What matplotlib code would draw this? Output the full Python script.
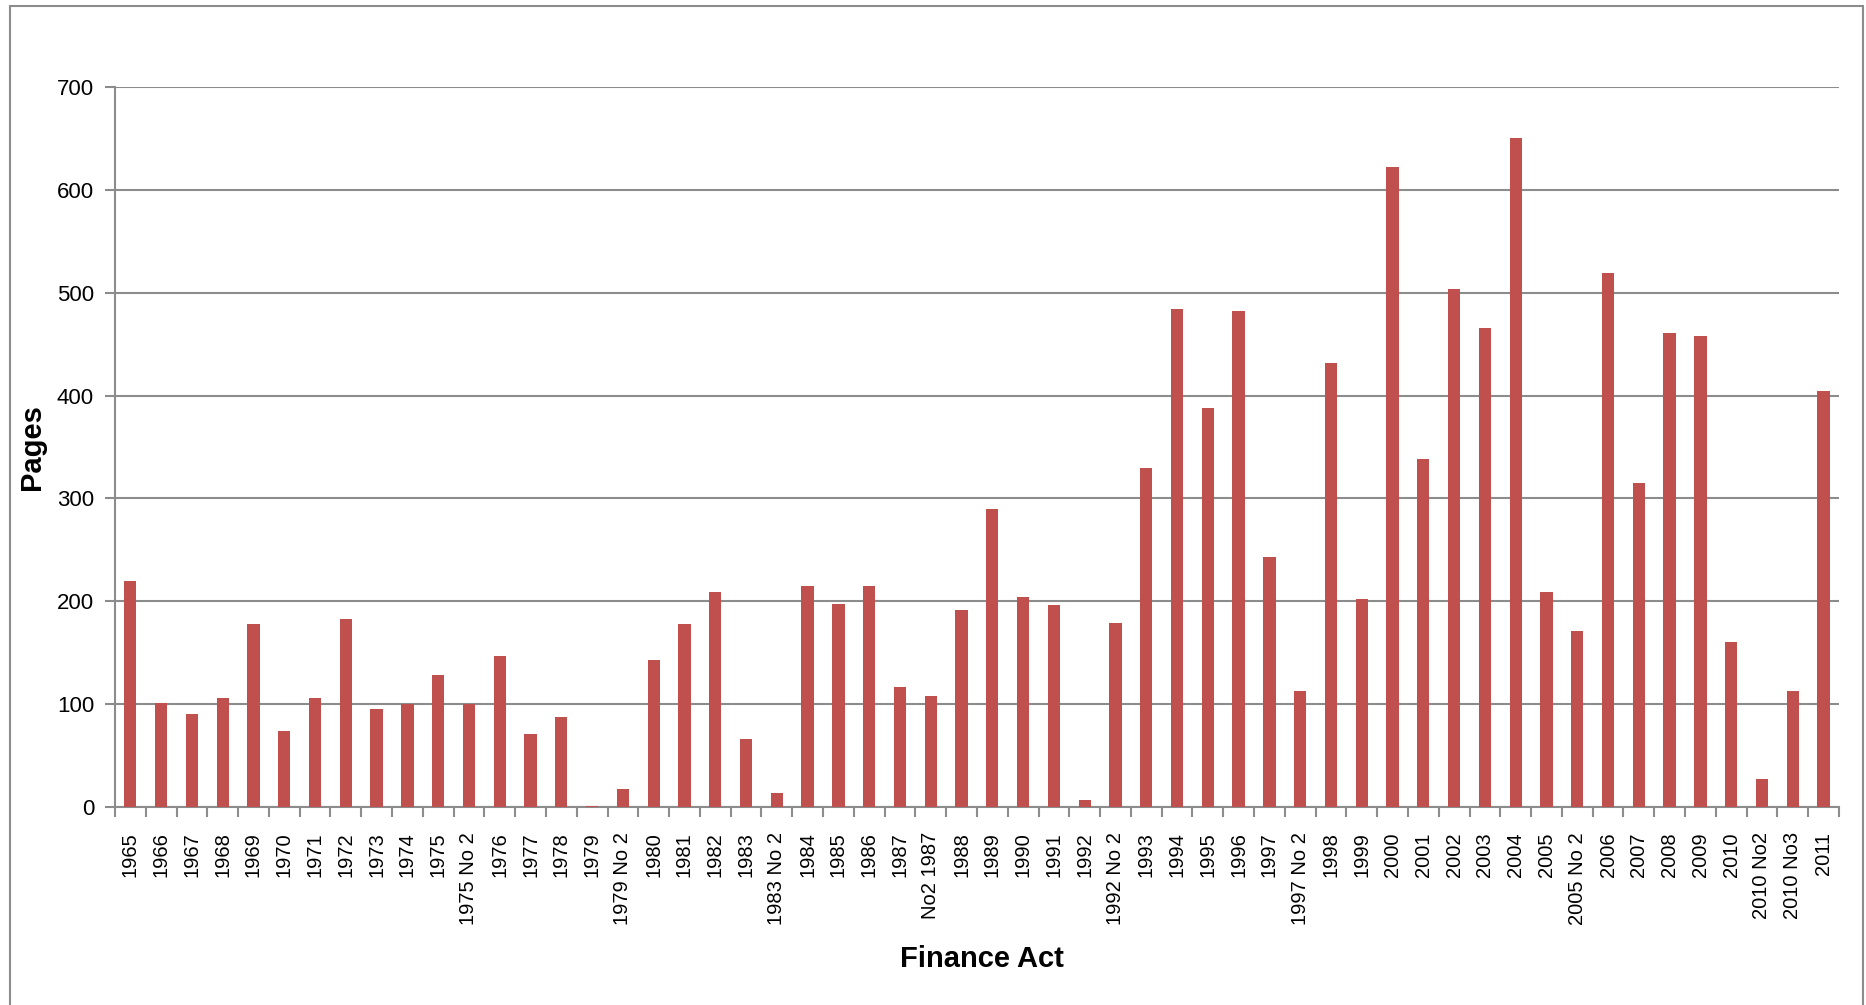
import matplotlib
matplotlib.use('Agg')
import matplotlib.pyplot as plt
import numpy as np
from matplotlib.patches import Rectangle

acts = ['1965', '1966', '1967', '1968', '1969', '1970', '1971', '1972', '1973', '1974',
        '1975', '1975 No 2', '1976', '1977', '1978', '1979', '1979 No 2', '1980', '1981',
        '1982', '1983', '1983 No 2', '1984', '1985', '1986', '1987', 'No2 1987', '1988',
        '1989', '1990', '1991', '1992', '1992 No 2', '1993', '1994', '1995', '1996', '1997',
        '1997 No 2', '1998', '1999', '2000', '2001', '2002', '2003', '2004', '2005',
        '2005 No 2', '2006', '2007', '2008', '2009', '2010', '2010 No2', '2010 No3', '2011']
pages = [220, 101, 90, 106, 178, 74, 106, 183, 95, 100,
         128, 100, 147, 71, 88, 1, 18, 143, 178,
         209, 66, 14, 215, 197, 215, 117, 108, 192,
         290, 204, 196, 7, 179, 330, 484, 388, 482, 243,
         113, 432, 202, 622, 338, 504, 466, 650, 209,
         171, 519, 315, 461, 458, 160, 27, 113, 404]
y_ticks = [0, 100, 200, 300, 400, 500, 600, 700]

grid_col = '#8c8c8c'
bar_col = '#C0504D'

fig = plt.figure(figsize=(18.66, 10.05), dpi=100)
ax = fig.add_axes([0.0616, 0.197, 0.9239, 0.7164])

x = np.arange(len(acts))
ax.bar(x, pages, width=0.4, color=bar_col, zorder=3)

ax.set_xlim(-0.5, len(acts) - 0.5)
ax.set_ylim(0, 700)
ax.set_yticks(y_ticks)
ax.set_yticklabels([str(v) for v in y_ticks], family=['Liberation Sans Narrow', 'Liberation Sans'], fontsize=16)
ax.yaxis.grid(True, color=grid_col, linewidth=1.5, zorder=0)

ax.set_xticks(x)
ax.set_xticklabels(acts, rotation=90, family='Liberation Sans', fontsize=14.5)
ax.set_xticks(np.arange(len(acts) + 1) - 0.5, minor=True)
ax.tick_params(axis='x', which='major', length=0, pad=18)
ax.tick_params(axis='x', which='minor', length=7, width=1.5, color=grid_col, direction='out')
ax.tick_params(axis='y', length=7, width=1.5, color=grid_col, pad=8)

for s in ['top', 'right']:
    ax.spines[s].set_visible(False)
for s in ['left', 'bottom']:
    ax.spines[s].set_color(grid_col)
    ax.spines[s].set_linewidth(1.5)

ax.set_ylabel('Pages', family=['Liberation Sans Narrow', 'Liberation Sans'], fontsize=21, fontweight='bold')
ax.yaxis.set_label_coords(-0.04, 0.5)
fig.text(0.526, 0.046, 'Finance Act', ha='center', va='center',
         family=['Liberation Sans Narrow', 'Liberation Sans'], fontsize=21, fontweight='bold')

# outer chart border
fig.patches.append(Rectangle((10 / 1866, -0.05), 1853 / 1866, 1 + 0.05 - 6 / 1005,
                             transform=fig.transFigure, fill=False,
                             edgecolor='#8c8c8c', linewidth=1.5))

plt.savefig('out.png', dpi=100)
